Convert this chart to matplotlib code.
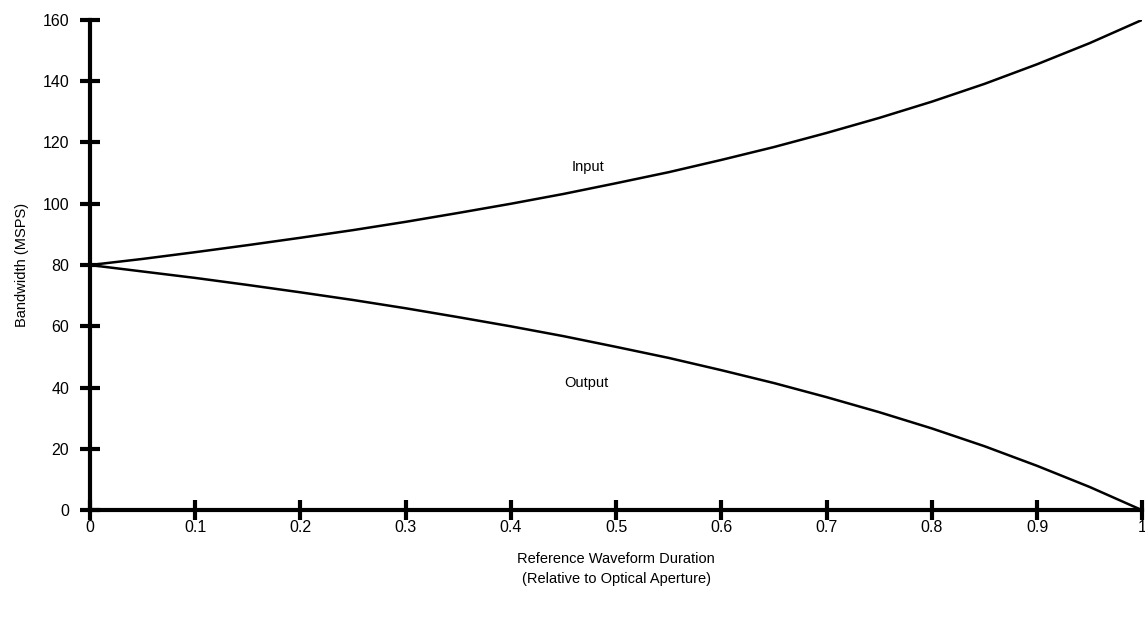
import numpy as np
import matplotlib.pyplot as plt

plt.rcParams['font.family'] = ['Liberation Sans', 'DejaVu Sans']

duration = [0, 0.05, 0.1, 0.15, 0.2, 0.25, 0.3, 0.35, 0.4, 0.45, 0.5,
            0.55, 0.6, 0.65, 0.7, 0.75, 0.8, 0.85, 0.9, 0.95, 1.0]
input_bw = [80, 82, 84.2, 86.5, 88.9, 91.4, 94.1, 97, 100, 103.2, 106.7,
            110.3, 114.3, 118.5, 123.1, 128, 133.3, 139.1, 145.5, 152.4, 160]
output_bw = [80, 77.9, 75.8, 73.5, 71.1, 68.6, 65.9, 63, 60, 56.8, 53.3,
             49.7, 45.7, 41.5, 36.9, 32, 26.7, 20.9, 14.5, 7.6, 0]

fig = plt.figure(figsize=(11.45, 6.2), dpi=100)
ax = fig.add_axes([0.0786, 0.177, 0.919, 0.791])

ax.plot(duration, input_bw, color='black', lw=1.8)
ax.plot(duration, output_bw, color='black', lw=1.8)

ax.text(0.473, 112, 'Input', fontsize=10.5, ha='center', va='center')
ax.text(0.472, 41.5, 'Output', fontsize=10.5, ha='center', va='center')

ax.set_xlim(0, 1)
ax.set_ylim(0, 160)
ax.set_xticks(np.arange(0, 1.01, 0.1))
ax.set_xticklabels(['0', '0.1', '0.2', '0.3', '0.4', '0.5', '0.6', '0.7', '0.8', '0.9', '1'])
ax.set_yticks(range(0, 161, 20))

for s in ['top', 'right']:
    ax.spines[s].set_visible(False)
for s in ['left', 'bottom']:
    ax.spines[s].set_linewidth(3)
ax.tick_params(direction='inout', length=14, width=3, labelsize=11.5, pad=8)
ax.tick_params(axis='x', pad=0)

ax.set_xlabel('Reference Waveform Duration\n(Relative to Optical Aperture)', fontsize=10.5, labelpad=12, linespacing=1.6)
ax.set_ylabel('Bandwidth (MSPS)', fontsize=10.5, labelpad=10)

fig.savefig('out.png', dpi=100)
